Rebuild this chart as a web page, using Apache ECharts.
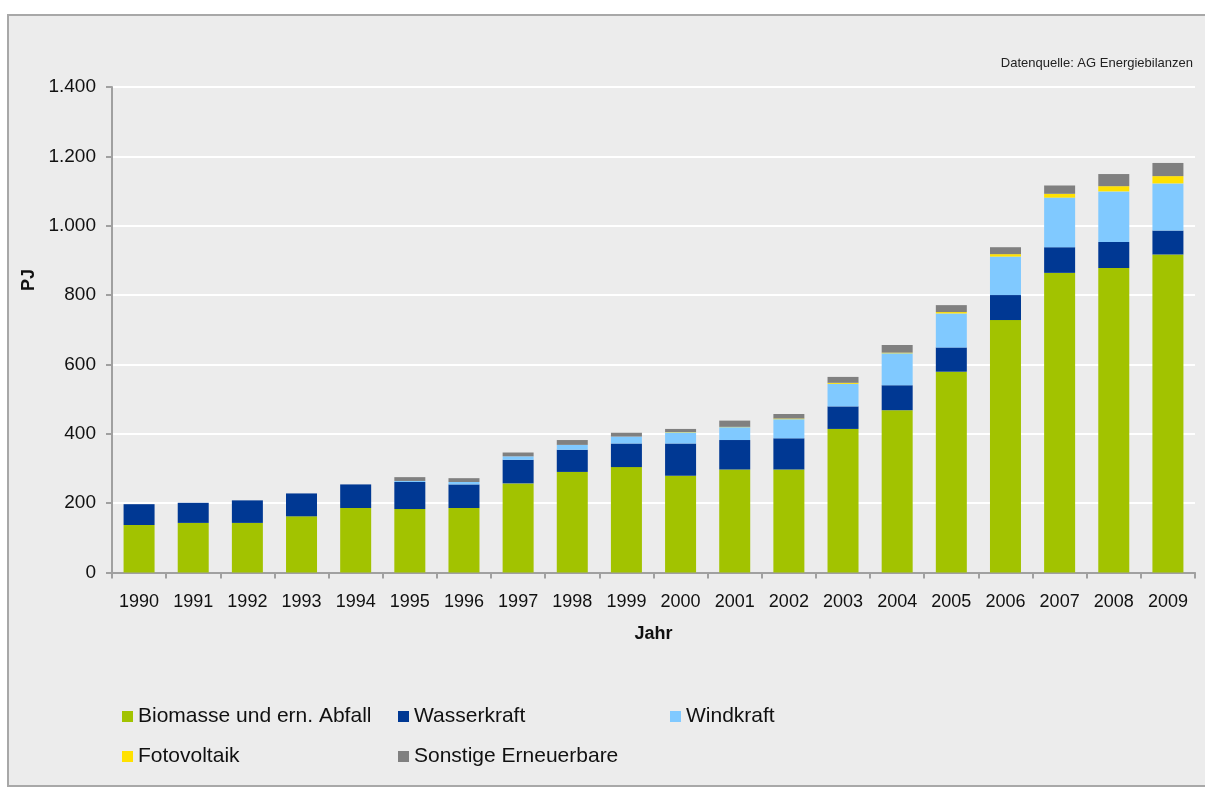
<!DOCTYPE html>
<html>
<head>
<meta charset="utf-8">
<script src="https://cdn.jsdelivr.net/npm/echarts@6/dist/echarts.min.js"></script>
<style>
html,body{margin:0;padding:0;background:#fff;}
#chart{width:1205px;height:789px;}
</style>
</head>
<body>
<div id="chart"></div>
<script>
const years = ['1990','1991','1992','1993','1994','1995','1996','1997','1998','1999','2000','2001','2002','2003','2004','2005','2006','2007','2008','2009'];
const biomasse  = [137,143,143,162,186,183,186,257,290,304,279,297,297,414,468,579,728,864,878,917];
const wasser    = [60, 58, 65, 66, 68, 78, 68, 68, 64, 68, 93, 85, 90, 65, 72, 70, 72, 74, 75, 69];
const wind      = [0,  0,  0,  0,  0,  3,  7,  10, 14, 20, 32, 37, 55, 65, 92, 98, 111,143,146,136];
const pv        = [0,  0,  0,  0,  0,  0,  0,  0,  0,  0,  1,  1,  2,  3,  2,  4,  7,  11, 15, 21];
const sonstige  = [0,  0,  0,  0,  0,  11, 11, 11, 14, 11, 9,  18, 13, 17, 22, 20, 20, 24, 35, 38];
const yTicks = [0,200,400,600,800,1000,1200,1400];

const names = ['Biomasse und ern. Abfall','Wasserkraft','Windkraft','Fotovoltaik','Sonstige Erneuerbare'];
const colors = ['#a2c300','#003893','#80c9ff','#ffe100','#808080'];
const seriesData = [biomasse, wasser, wind, pv, sonstige];

const chart = echarts.init(document.getElementById('chart'));
const font = 'Liberation Sans, Arial, sans-serif';
const legendText = {fontFamily: font, fontSize: 21, color: '#111'};
function fmt(v){ return String(v).replace(/\B(?=(\d{3})+(?!\d))/g, '.'); }

chart.setOption({
  backgroundColor: '#ffffff',
  animation: false,
  graphic: [
    {type:'rect', shape:{x:8, y:15, width:1210, height:771}, style:{fill:'#ececec', stroke:'#a8a8a8', lineWidth:2}, z:-10},
    {type:'text', right: 12, top: 57, style:{text:'Datenquelle: AG Energiebilanzen', fontFamily: font, fontSize: 13, fill:'#222'}},
    {type:'text', x: 20, y: 280, rotation: Math.PI/2, style:{text:'PJ', fontFamily: font, fontSize: 18, fontWeight:'bold', fill:'#111', align:'center', verticalAlign:'top'}}
  ],
  grid: {left:112, right:10, top:87, bottom:216.5, containLabel:false},
  legend: [
    {left:117, top:701, orient:'vertical', itemGap:19, itemWidth:11, itemHeight:11, icon:'rect', textStyle:legendText, data:[names[0], names[3]]},
    {left:393, top:701, orient:'vertical', itemGap:19, itemWidth:11, itemHeight:11, icon:'rect', textStyle:legendText, data:[names[1], names[4]]},
    {left:665, top:701, orient:'vertical', itemGap:19, itemWidth:11, itemHeight:11, icon:'rect', textStyle:legendText, data:[names[2]]}
  ],
  xAxis: {
    type:'category', data: years,
    name:'Jahr', nameLocation:'middle', nameGap:53,
    nameTextStyle:{fontFamily:font, fontSize:18, fontWeight:'bold', color:'#111'},
    axisLine:{lineStyle:{color:'#a0a0a0', width:2}},
    axisTick:{show:true, alignWithLabel:false, length:6, lineStyle:{color:'#a0a0a0', width:2}},
    axisLabel:{fontFamily:font, fontSize:18, color:'#111', margin:21, interval:0}
  },
  yAxis: {
    type:'value', min:0, max:1400, interval:200,
    axisLine:{show:true, lineStyle:{color:'#a0a0a0', width:2}},
    axisTick:{show:true, length:6, lineStyle:{color:'#a0a0a0', width:2}},
    axisLabel:{fontFamily:font, fontSize:19, color:'#111', margin:16, formatter: v => fmt(v)},
    splitLine:{show:true, lineStyle:{color:'#ffffff', width:2}}
  },
  series: seriesData.map((d,i)=>({
    name: names[i], type:'bar', stack:'total', data:d, barWidth:31,
    itemStyle:{color:colors[i]}
  }))
});
</script>
</body>
</html>
